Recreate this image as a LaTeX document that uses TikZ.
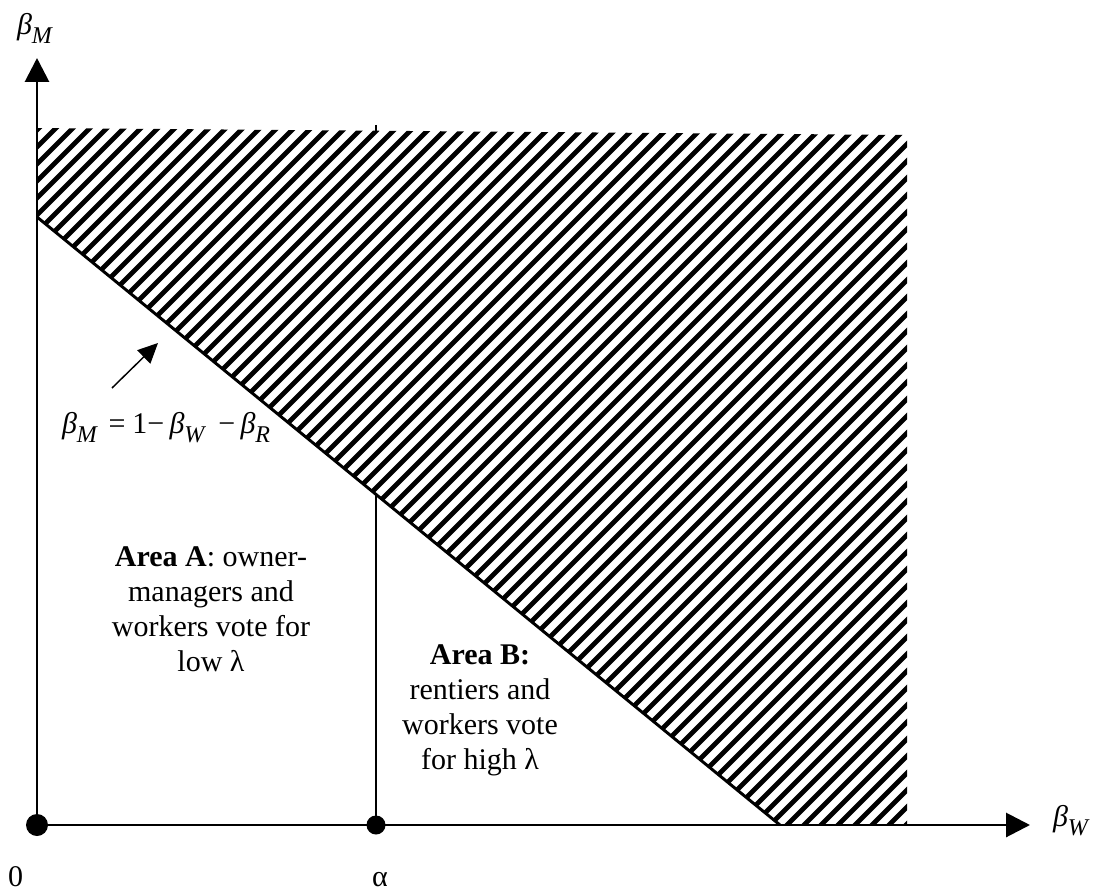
\documentclass[tikz,border=0pt]{standalone}
\usepackage{fontspec}
\setmainfont{Liberation Serif}
\usetikzlibrary{arrows.meta}
\newcommand\bvar[1]{\textit{β}\raisebox{-0.3em}{\fontsize{18}{18}\selectfont\textit{#1}}}
\begin{document}
\begin{tikzpicture}[x=0.75pt,y=-0.75pt,
  txt/.style={font=\fontsize{22.5}{26.25}\selectfont, inner sep=0pt, outer sep=0pt},
  axis/.style={line width=2.2pt, -{Triangle[length=18pt,width=18pt]}},
  dot/.style={circle, fill=black, inner sep=0pt},
  hatchline/.style={line width=3.6pt}]
\useasboundingbox (0,0) rectangle (1099,895);
% hatched region
\begin{scope}
\clip (37,128) -- (907,135) -- (907,825) -- (780,825) -- (37,217) -- cycle;
\foreach \c in {150,167,...,1760} \draw[hatchline] (\c,0) -- (\c-900,900);
\end{scope}
% coordinates
\coordinate (O) at (37,825);
\coordinate (ytip) at (37,58);
\coordinate (xtip) at (1030,825);
\coordinate (A) at (376,825);
\coordinate (P) at (37,217);
\coordinate (Q) at (780,825);
\coordinate (R) at (376,493);
\coordinate (s1) at (112,388);
\coordinate (s2) at (158,343);
% lines
\draw[line width=2.2pt] (P) -- (Q);
\draw[line width=1.5pt] (A) -- (R);
\draw[line width=1.5pt] (376,125) -- (376,131);
\draw[axis] (O) -- (ytip);
\draw[axis] (O) -- (xtip);
\draw[line width=1.1pt, -{Triangle[length=15pt,width=14pt]}] (s1) -- (s2);
% dots
\node[dot, minimum size=16.5pt] (o) at (O) {};
\node[dot, minimum size=14.25pt] (a) at (A) {};
% labels
\node[txt, anchor=base west] (bm) at (17,35) {\bvar{M}};
\node[txt, anchor=base west] (bw) at (1053,826) {\bvar{W}};
\node[txt, anchor=base west] (zero) at (8,886) {0};
\node[txt, anchor=base west] (alpha) at (372,886) {α};
\node[txt, anchor=base west] (eq) at (62,433) {\bvar{M}\hspace{8pt}=\hspace{5pt}1−\hspace{4pt}\bvar{W}\hspace{9pt}−\hspace{4pt}\bvar{R}};
\node[txt, align=center, anchor=north] (areaA) at (211,547) {\textbf{Area A}: owner-\\managers and\\workers vote for\\low λ};
\node[txt, align=center, anchor=north] (areaB) at (480,645) {\textbf{Area B:}\\rentiers and\\workers vote\\for high λ};
\end{tikzpicture}
\end{document}
